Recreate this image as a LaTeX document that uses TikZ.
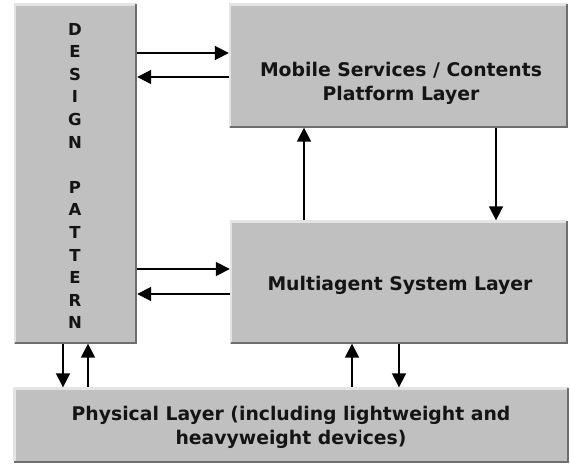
\documentclass[tikz,border=0pt]{standalone}
\usepackage{fontspec}
\setmainfont{DejaVu Sans}
\usetikzlibrary{arrows.meta}
\definecolor{boxfill}{HTML}{C0C0C0}
\definecolor{boxlight}{HTML}{E4E4E4}
\definecolor{boxdark}{HTML}{6E6E6E}
\definecolor{txt}{HTML}{141414}
\tikzset{
  layerbox/.style={draw=none, fill=boxfill, inner sep=0pt, minimum width=#1},
  lbl/.style={text=txt, font=\bfseries\fontsize{18.8}{24}\selectfont, align=center, inner sep=0pt},
  vlbl/.style={text=txt, font=\bfseries\fontsize{16.5}{22.6}\selectfont, align=center, inner sep=0pt},
  arr/.style={draw=black, line width=1.8pt, -{Triangle[length=14pt,width=14pt]}},
}
\newcommand{\bevel}[1]{%
  \draw[boxlight, line width=2.2pt] ([xshift=1.1pt,yshift=1.1pt]#1.south west) -- ([xshift=1.1pt,yshift=-1.1pt]#1.north west) -- ([xshift=-1.1pt,yshift=-1.1pt]#1.north east);
  \draw[boxdark, line width=2.2pt] ([xshift=-1.1pt,yshift=-1.1pt]#1.north east) -- ([xshift=-1.1pt,yshift=1.1pt]#1.south east) -- ([xshift=1.1pt,yshift=1.1pt]#1.south west);
}
\begin{document}
\begin{tikzpicture}[x=1pt,y=-1pt]
\useasboundingbox[fill=white] (0,0) rectangle (570,463);
% boxes
\node[layerbox=123pt, minimum height=340pt] (design) at (75.5,173.5) {};
\node[layerbox=339pt, minimum height=124pt] (mobile) at (398.5,65.5) {};
\node[layerbox=338pt, minimum height=123pt] (multi) at (399,282) {};
\node[layerbox=555pt, minimum height=75pt] (phys) at (291,425) {};
\bevel{design}\bevel{mobile}\bevel{multi}\bevel{phys}
% labels
\node[vlbl] (dtext) at (75,176) {D\\E\\S\\I\\G\\N\\\mbox{}\\P\\A\\T\\T\\E\\R\\N};
\node[lbl] (mtext) at (401,83) {Mobile Services / Contents\\Platform Layer};
\node[lbl] (atext) at (400,285) {Multiagent System Layer};
\node[lbl] (ptext) at (291,427) {Physical Layer (including lightweight and\\heavyweight devices)};
% helper coordinates
\coordinate (y1) at (0,53);
\coordinate (y2) at (0,77);
\coordinate (y3) at (0,269);
\coordinate (y4) at (0,294);
\coordinate (x1) at (304,0);
\coordinate (x2) at (496,0);
\coordinate (x3) at (63,0);
\coordinate (x4) at (88,0);
\coordinate (x5) at (352,0);
\coordinate (x6) at (399,0);
% arrows
\draw[arr] (design.east |- y1) -- (mobile.west |- y1);
\draw[arr] (mobile.west |- y2) -- (design.east |- y2);
\draw[arr] (design.east |- y3) -- (multi.west |- y3);
\draw[arr] (multi.west |- y4) -- (design.east |- y4);
\draw[arr] (multi.north -| x1) -- (mobile.south -| x1);
\draw[arr] (mobile.south -| x2) -- (multi.north -| x2);
\draw[arr] (design.south -| x3) -- (phys.north -| x3);
\draw[arr] (phys.north -| x4) -- (design.south -| x4);
\draw[arr] (phys.north -| x5) -- (multi.south -| x5);
\draw[arr] (multi.south -| x6) -- (phys.north -| x6);
\end{tikzpicture}
\end{document}
